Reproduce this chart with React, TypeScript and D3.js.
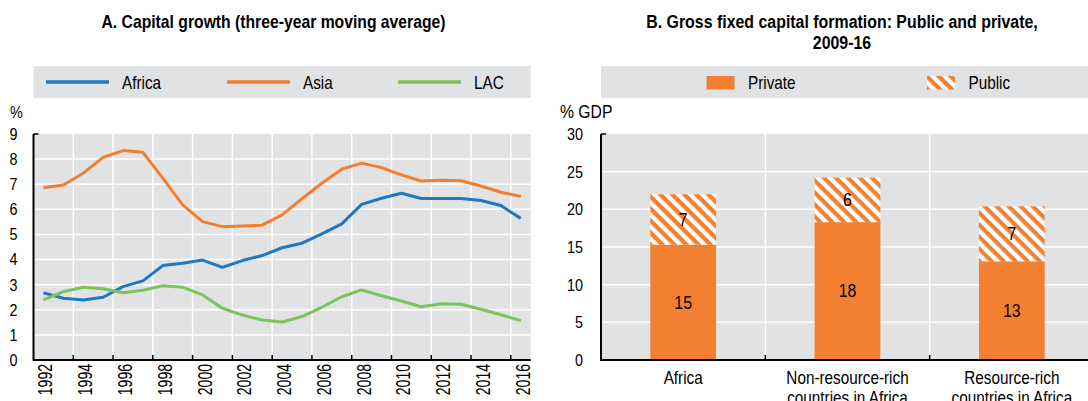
import * as d3 from 'd3'
import type { ReactNode } from 'react'

const YEARS = [
  1992, 1993, 1994, 1995, 1996, 1997, 1998, 1999, 2000, 2001, 2002, 2003, 2004,
  2005, 2006, 2007, 2008, 2009, 2010, 2011, 2012, 2013, 2014, 2015, 2016,
]
const AFRICA = [
  2.68, 2.46, 2.39, 2.5, 2.92, 3.15, 3.76, 3.85, 3.98, 3.69, 3.96, 4.16, 4.47,
  4.65, 5.02, 5.42, 6.2, 6.44, 6.64, 6.43, 6.43, 6.43, 6.35, 6.15, 5.64,
]
const ASIA = [
  6.86, 6.97, 7.44, 8.07, 8.34, 8.27, 7.24, 6.18, 5.51, 5.31, 5.34, 5.37, 5.78,
  6.42, 7.04, 7.6, 7.84, 7.66, 7.37, 7.13, 7.16, 7.14, 6.93, 6.68, 6.51,
]
const LAC = [
  2.39, 2.72, 2.9, 2.84, 2.68, 2.78, 2.96, 2.9, 2.59, 2.06, 1.79, 1.59, 1.51,
  1.73, 2.1, 2.52, 2.79, 2.56, 2.35, 2.12, 2.24, 2.22, 2.02, 1.8, 1.57,
]
const GROWTH_TICKS = [0, 1, 2, 3, 4, 5, 6, 7, 8, 9]

const GROUPS = [
  ['Africa'],
  ['Non-resource-rich', 'countries in Africa'],
  ['Resource-rich', 'countries in Africa'],
]
const PRIVATE = [15.3, 18.3, 13.1]
const PUBLIC = [6.7, 5.9, 7.3]
const GDP_TICKS = [0, 5, 10, 15, 20, 25, 30]

const FONT = 'Arial, "Liberation Sans", sans-serif'
const BG = '#e1e2e4'
const ORANGE = '#f37f31'

const SERIES = [
  { name: 'Africa', values: AFRICA, color: '#1f78c1', lx: 46 },
  { name: 'Asia', values: ASIA, color: '#f47d30', lx: 227 },
  { name: 'LAC', values: LAC, color: '#7cc35a', lx: 398 },
]

// condensed-looking text: Arial squeezed horizontally
function T({
  x,
  y,
  size = 18,
  sx = 0.85,
  anchor = 'start',
  bold = false,
  rotate = 0,
  children,
}: {
  x: number
  y: number
  size?: number
  sx?: number
  anchor?: 'start' | 'middle' | 'end'
  bold?: boolean
  rotate?: number
  children: ReactNode
}) {
  return (
    <text
      transform={`translate(${x},${y}) rotate(${rotate}) scale(${sx},1)`}
      fontSize={size}
      textAnchor={anchor}
      fontWeight={bold ? 'bold' : undefined}
    >
      {children}
    </text>
  )
}

function PanelA() {
  const x = d3.scaleBand<number>().domain(YEARS).range([33.5, 530.7]).padding(0)
  const y = d3.scaleLinear().domain([0, 9]).range([360, 134])
  const line = d3
    .line<number>()
    .x((_, i) => (x(YEARS[i]) ?? 0) + x.bandwidth() / 2)
    .y((d) => y(d))
  const evenYears = YEARS.filter((yr) => yr % 2 === 0)
  const [x0, x1] = x.range()

  return (
    <g>
      <T x={273.5} y={28} size={18.5} sx={0.85} anchor="middle" bold>
        A. Capital growth (three-year moving average)
      </T>
      <rect x={x0} y={66} width={x1 - x0} height={32} fill={BG} />
      {SERIES.map((s) => (
        <g key={s.name}>
          <line x1={s.lx} x2={s.lx + 63} y1={82} y2={82} stroke={s.color} strokeWidth={3.5} />
          <T x={s.lx + 76} y={89}>
            {s.name}
          </T>
        </g>
      ))}
      <T x={16.5} y={118} size={17} sx={0.85} anchor="middle">
        %
      </T>
      <rect x={x0} y={y(9)} width={x1 - x0} height={y(0) - y(9)} fill={BG} />
      {GROWTH_TICKS.filter((t) => t > 0 && t < 9).map((t) => (
        <line key={t} x1={x0} x2={x1} y1={y(t)} y2={y(t)} stroke="#fff" strokeWidth={1.5} />
      ))}
      {evenYears
        .filter((yr) => yr > 1992)
        .map((yr) => (
          <line
            key={yr}
            x1={x(yr)}
            x2={x(yr)}
            y1={y(9)}
            y2={y(0)}
            stroke="#fff"
            strokeWidth={1.5}
          />
        ))}
      {SERIES.map((s) => (
        <path
          key={s.name}
          d={line(s.values) ?? ''}
          fill="none"
          stroke={s.color}
          strokeWidth={3}
          strokeLinejoin="round"
        />
      ))}
      <line x1={x0} x2={x1} y1={y(0)} y2={y(0)} stroke="#000" strokeWidth={2} />
      <line x1={x0} x2={x0} y1={y(9)} y2={y(0) + 1} stroke="#000" strokeWidth={2} />
      <line x1={x0} x2={x0 + 5} y1={y(9)} y2={y(9)} stroke="#000" strokeWidth={1.5} />
      {evenYears
        .filter((yr) => yr > 1992)
        .map((yr) => (
          <line key={yr} x1={x(yr)} x2={x(yr)} y1={y(0)} y2={y(0) - 5} stroke="#000" strokeWidth={1.5} />
        ))}
      {GROWTH_TICKS.map((t) => (
        <T key={t} x={17.5} y={y(t) + 5.9} size={16.5} sx={0.87} anchor="end">
          {t}
        </T>
      ))}
      {evenYears.map((yr) => {
        const cx = (x(yr) ?? 0) + x.bandwidth() / 2
        return (
          <T key={yr} x={cx + 9} y={364} size={19.5} sx={0.72} anchor="end" rotate={-90}>
            {yr}
          </T>
        )
      })}
    </g>
  )
}

function PanelB() {
  const x = d3
    .scaleBand<number>()
    .domain(GROUPS.map((_, i) => i))
    .range([601, 1094])
  const y = d3.scaleLinear().domain([0, 30]).range([360, 134])
  const bw = x.bandwidth() * 0.4
  const [x0, x1] = x.range()

  return (
    <g>
      <defs>
        <pattern
          id="hatch"
          patternUnits="userSpaceOnUse"
          width={8.5}
          height={8.5}
          patternTransform="rotate(45)"
        >
          <rect width={8.5} height={8.5} fill="#fff" />
          <rect width={8.5} height={4.25} fill={ORANGE} />
        </pattern>
      </defs>
      <T x={842} y={28} size={18.5} sx={0.86} anchor="middle" bold>
        B. Gross fixed capital formation: Public and private,
      </T>
      <T x={842} y={48.5} size={18.5} sx={0.86} anchor="middle" bold>
        2009-16
      </T>
      <rect x={x0} y={66} width={1088 - x0} height={32} fill={BG} />
      <rect x={706.5} y={76} width={28} height={13.5} fill={ORANGE} />
      <T x={748} y={89}>
        Private
      </T>
      <rect x={927} y={76} width={28} height={13.5} fill="url(#hatch)" />
      <T x={968.5} y={89}>
        Public
      </T>
      <T x={560} y={118} size={17.5} sx={0.9}>
        % GDP
      </T>
      <rect x={x0} y={y(30)} width={x1 - x0} height={y(0) - y(30)} fill={BG} />
      {GDP_TICKS.filter((t) => t > 0 && t < 30).map((t) => (
        <line key={t} x1={x0} x2={x1} y1={y(t)} y2={y(t)} stroke="#fff" strokeWidth={1.5} />
      ))}
      {GROUPS.slice(1).map((_, i) => (
        <line
          key={i}
          x1={x(i + 1)}
          x2={x(i + 1)}
          y1={y(30)}
          y2={y(0)}
          stroke="#fff"
          strokeWidth={1.5}
        />
      ))}
      {GROUPS.map((_, i) => {
        const bx = (x(i) ?? 0) + (x.bandwidth() - bw) / 2
        const cx = bx + bw / 2
        const p = PRIVATE[i]
        const q = PUBLIC[i]
        return (
          <g key={i}>
            <rect x={bx} y={y(p)} width={bw} height={y(0) - y(p)} fill={ORANGE} />
            <rect x={bx} y={y(p + q)} width={bw} height={y(p) - y(p + q)} fill="url(#hatch)" />
            <T x={cx} y={(y(0) + y(p)) / 2 + 6.4} anchor="middle" sx={0.88}>
              {Math.round(p)}
            </T>
            <T x={cx} y={(y(p) + y(p + q)) / 2 + 6.4} anchor="middle" sx={0.88}>
              {Math.round(q)}
            </T>
          </g>
        )
      })}
      <line x1={x0} x2={x1} y1={y(0)} y2={y(0)} stroke="#000" strokeWidth={2} />
      <line x1={x0} x2={x0} y1={y(30)} y2={y(0) + 1} stroke="#000" strokeWidth={2} />
      <line x1={x0} x2={x0 + 5} y1={y(30)} y2={y(30)} stroke="#000" strokeWidth={1.5} />
      {GROUPS.slice(1).map((_, i) => (
        <line key={i} x1={x(i + 1)} x2={x(i + 1)} y1={y(0)} y2={y(0) - 5} stroke="#000" strokeWidth={1.5} />
      ))}
      {GDP_TICKS.map((t) => (
        <T key={t} x={583} y={y(t) + 5.9} size={16.5} sx={0.87} anchor="end">
          {t}
        </T>
      ))}
      {GROUPS.map((lines, i) =>
        lines.map((l, j) => (
          <T key={`${i}-${j}`} x={(x(i) ?? 0) + x.bandwidth() / 2} y={384 + j * 19.5} anchor="middle">
            {l}
          </T>
        )),
      )}
    </g>
  )
}

export default function App() {
  return (
    <svg
      width={1088}
      height={401}
      style={{ position: 'absolute', left: 0, top: 0, background: '#fff' }}
      fontFamily={FONT}
      fill="#000"
    >
      <PanelA />
      <PanelB />
    </svg>
  )
}
